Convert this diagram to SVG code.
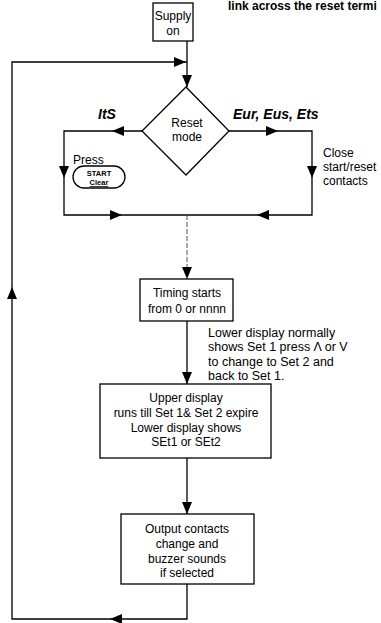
<svg xmlns="http://www.w3.org/2000/svg" xmlns:xlink="http://www.w3.org/1999/xlink" width="381" height="623" viewBox="0 0 381 623">
<style>
.box{fill:#fff;stroke:#000;stroke-width:1.3}
.ln{fill:none;stroke:#000;stroke-width:1.3}
.dash{fill:none;stroke:#555;stroke-width:1;stroke-dasharray:5,2}
text{font-family:"Liberation Sans",Arial,sans-serif;font-size:12px;fill:#000}
.c{text-anchor:middle}
.bi{font-weight:bold;font-style:italic;font-size:14px}
.sm{font-weight:bold;font-size:7.5px;text-anchor:middle}
.side{font-size:12.5px}
</style>
<defs>
<path id="ah" d="M0,0 L-12,-5 L-12,5 Z" fill="#000"/>
</defs>
<rect width="381" height="623" fill="#fff"/>
<text x="228" y="10" font-weight="bold" font-size="11">link across the reset termi</text>
<g id="connectors">
<line class="ln" x1="187" y1="41" x2="187" y2="87"/>
<polyline class="ln" points="142,131 64,131 64,215 312,215 312,131 229,131"/>
<line class="dash" x1="187" y1="215" x2="187" y2="279"/>
<line class="ln" x1="187" y1="321" x2="187" y2="384"/>
<line class="ln" x1="187" y1="458" x2="187" y2="514"/>
<polyline class="ln" points="187,584 187,619 12,619 12,62 187,62"/>
<use xlink:href="#ah" transform="translate(187,87) rotate(90)"/>
<use xlink:href="#ah" transform="translate(186,62)"/>
<use xlink:href="#ah" transform="translate(112,131) rotate(180)"/>
<use xlink:href="#ah" transform="translate(64,178) rotate(90)"/>
<use xlink:href="#ah" transform="translate(122,215)"/>
<use xlink:href="#ah" transform="translate(257,215) rotate(180)"/>
<use xlink:href="#ah" transform="translate(278,131)"/>
<use xlink:href="#ah" transform="translate(312,178) rotate(90)"/>
<use xlink:href="#ah" transform="translate(187,279) rotate(90)"/>
<use xlink:href="#ah" transform="translate(187,384) rotate(90)"/>
<use xlink:href="#ah" transform="translate(187,514) rotate(90)"/>
<use xlink:href="#ah" transform="translate(110,619) rotate(180)"/>
<use xlink:href="#ah" transform="translate(12,287) rotate(-90)"/>
</g>
<g id="supply">
<rect class="box" x="153" y="3" width="40" height="38"/>
<text class="c" x="173" y="20">Supply</text>
<text class="c" x="173" y="35">on</text>
</g>
<g id="reset-mode">
<polygon class="box" points="186,87 229,131 186,175 142,131"/>
<text class="c" x="187" y="127">Reset</text>
<text class="c" x="187" y="141">mode</text>
</g>
<g id="label-its">
<text class="bi" x="98" y="119">ItS</text>
</g>
<g id="label-eur">
<text class="bi" x="233" y="119">Eur, Eus, Ets</text>
</g>
<g id="press">
<text x="73" y="164" font-size="13">Press</text>
<rect x="73" y="166" width="52" height="22" rx="11" fill="#fff" stroke="#000" stroke-width="1.3"/>
<text class="sm" x="99" y="176">START</text>
<text class="sm" x="99" y="185" text-decoration="underline">Clear</text>
</g>
<g id="close-label">
<text x="323" y="157" font-size="13">Close</text>
<text x="323" y="171" font-size="13">start/reset</text>
<text x="323" y="185" font-size="13">contacts</text>
</g>
<g id="timing">
<rect class="box" x="140" y="279" width="93" height="42"/>
<text class="c" x="187" y="297">Timing starts</text>
<text class="c" x="187" y="313">from 0 or nnnn</text>
</g>
<g id="lower-note">
<text class="side" x="208" y="337">Lower display normally</text>
<text class="side" x="208" y="351">shows Set 1 press Λ or V</text>
<text class="side" x="208" y="366">to change to Set 2 and</text>
<text class="side" x="208" y="380">back to Set 1.</text>
</g>
<g id="upper-display">
<rect class="box" x="100" y="384" width="171" height="74"/>
<text class="c" x="186" y="402">Upper display</text>
<text class="c" x="186" y="417">runs till Set 1&amp; Set 2 expire</text>
<text class="c" x="186" y="432">Lower display shows</text>
<text class="c" x="186" y="446">SEt1 or SEt2</text>
</g>
<g id="output">
<rect class="box" x="121" y="514" width="133" height="70"/>
<text class="c" x="187" y="533">Output contacts</text>
<text class="c" x="187" y="548">change and</text>
<text class="c" x="187" y="563">buzzer sounds</text>
<text class="c" x="187" y="577">if selected</text>
</g>
</svg>
